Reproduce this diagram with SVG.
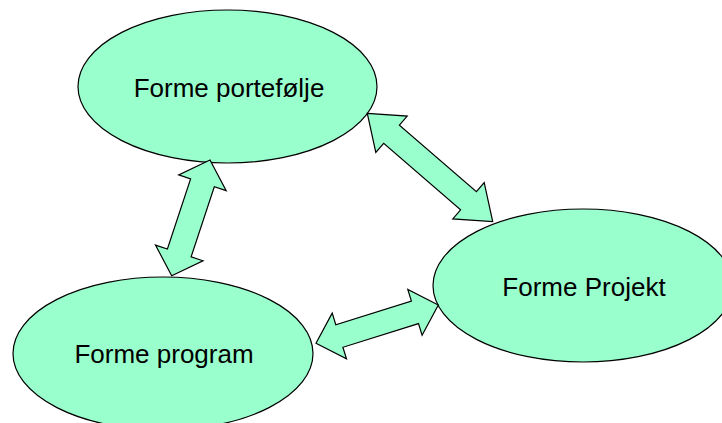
<svg xmlns="http://www.w3.org/2000/svg" width="722" height="423" viewBox="0 0 722 423">
<style>
.node{fill:#99FFCC;stroke:#000;stroke-width:1.2}
.lbl{font-family:"Liberation Sans",Arial,sans-serif;font-size:26px;fill:#000;text-anchor:middle}
.conn{fill:#99FFCC;stroke:#000;stroke-width:1.2;stroke-linejoin:miter}
</style>
<rect width="722" height="423" fill="#fff"/>
<g id="node-portefolje">
<ellipse class="node" cx="227.5" cy="86.5" rx="149.5" ry="76.5"/>
<text class="lbl" x="229" y="97">Forme portefølje</text>
</g>
<g id="node-projekt">
<ellipse class="node" cx="583" cy="285.5" rx="150" ry="76.5"/>
<text class="lbl" x="584" y="296">Forme Projekt</text>
</g>
<g id="node-program">
<ellipse class="node" cx="163" cy="353.5" rx="150" ry="76.5"/>
<text class="lbl" x="164" y="363">Forme program</text>
</g>
<g id="connectors">
<polygon class="conn" points="210,160 226.2,190.6 214.3,186.7 191.1,256.9 203,260.8 171.7,275.7 155.5,245.1 167.4,249 190.6,178.9 178.7,174.9"/>
<polygon class="conn" points="367.3,113.3 407.2,116.1 399.4,125.1 476.4,191.7 484.2,182.6 492.7,221.7 452.8,218.9 460.6,209.9 383.7,143.3 375.8,152.4"/>
<polygon class="conn" points="438.3,305 407.8,289.4 411.4,301.1 335.8,324.7 332.2,313.1 316,343.3 346.5,358.9 342.9,347.3 418.5,323.6 422.1,335.2"/>
</g>
</svg>
